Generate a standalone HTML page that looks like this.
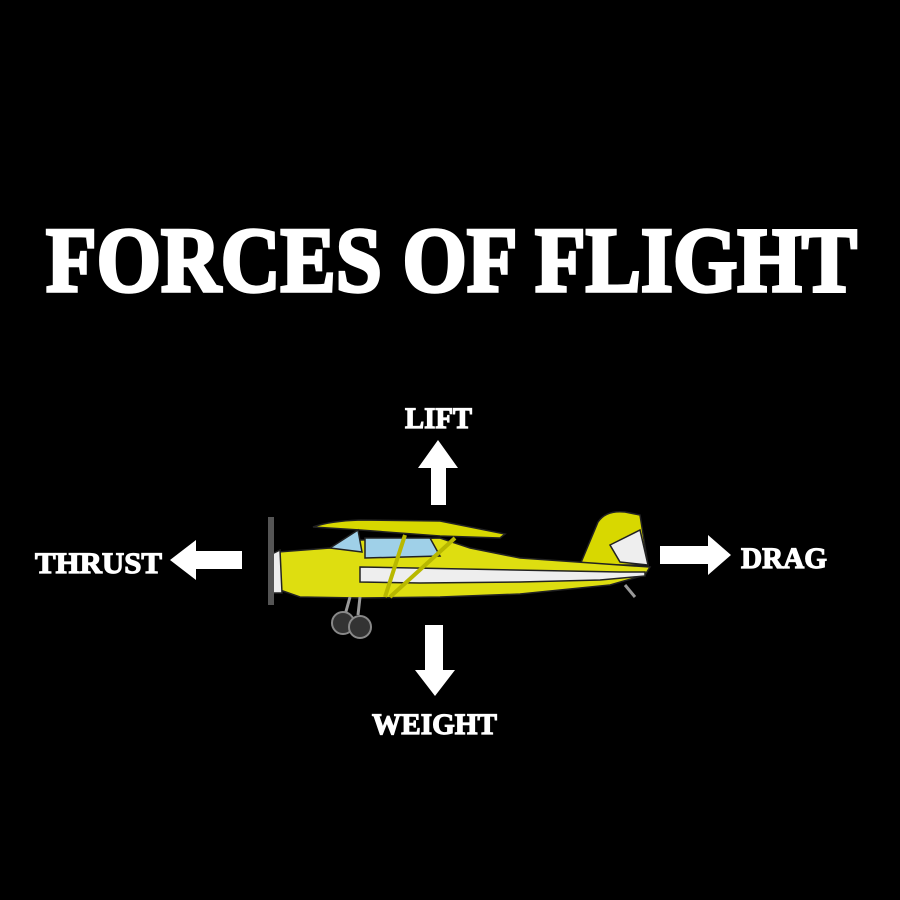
<!DOCTYPE html>
<html><head><style>html,body{margin:0;padding:0;background:#000;}svg{display:block}</style></head>
<body>
<svg width="900" height="900" viewBox="0 0 900 900" xmlns="http://www.w3.org/2000/svg">
<rect width="900" height="900" fill="#000"/>
<g font-family="Liberation Serif, serif" font-weight="bold" fill="#fff" stroke="#fff">
<text x="46" y="291" font-size="92" stroke-width="3.5" textLength="811" lengthAdjust="spacingAndGlyphs">FORCES OF FLIGHT</text>
<g stroke-width="1.2">
<text x="405" y="428" font-size="30" textLength="67" lengthAdjust="spacingAndGlyphs">LIFT</text>
<text x="35" y="573" font-size="30" textLength="127" lengthAdjust="spacingAndGlyphs">THRUST</text>
<text x="741" y="568" font-size="30" textLength="86" lengthAdjust="spacingAndGlyphs">DRAG</text>
<text x="372" y="734" font-size="30" textLength="125" lengthAdjust="spacingAndGlyphs">WEIGHT</text>
</g>
</g>
<g fill="#fff">
<polygon points="431,505 446,505 446,468 458,468 438,440 418,468 431,468"/>
<polygon points="242,551 242,569 196,569 196,580 170,560 196,540 196,551"/>
<polygon points="660,546 660,564 708,564 708,575 731,555 708,535 708,546"/>
<polygon points="425,625 443,625 443,670 455,670 435,696 415,670 425,670"/>
</g>
<!-- airplane -->
<g stroke="#222" stroke-width="1.5">
<path d="M580,565 L598,522 Q606,510 625,512 L640,515 L648,565 Z" fill="#d8d800"/>
<path d="M610,545 L640,530 L648,565 L620,562 Z" fill="#eee"/>
<path d="M313,527 Q330,521 360,520 L440,521 L505,534 L500,538 L440,536 L360,530 Z" fill="#d8d800"/>
<path d="M278,552 L330,548 L360,540 L440,538 L470,548 L520,558 L620,565 L650,567 L645,575 L610,585 L520,594 L440,597 L360,598 L300,597 L280,590 Z" fill="#dede10"/>
<path d="M360,567 L620,572 L645,572 L645,576 L600,580 L520,582 L420,583 L360,582 Z" fill="#eeeeee"/>
<path d="M330,548 L358,530 L362,552 Z" fill="#9fd0e8"/>
<path d="M365,538 L430,538 L440,556 L365,558 Z" fill="#9fd0e8"/>
<path d="M270,555 L280,550 L282,593 L272,593 Z" fill="#eee"/>
</g>
<rect x="268" y="517" width="6" height="88" fill="#555"/>
<g stroke="#999" stroke-width="3"><line x1="350" y1="597" x2="345" y2="615"/><line x1="360" y1="597" x2="358" y2="615"/><line x1="625" y1="585" x2="635" y2="597"/></g>
<circle cx="343" cy="623" r="11" fill="#333" stroke="#888" stroke-width="2"/>
<circle cx="360" cy="627" r="11" fill="#333" stroke="#888" stroke-width="2"/>
<g stroke="#b8b800" stroke-width="4"><line x1="385" y1="597" x2="405" y2="535"/><line x1="390" y1="597" x2="455" y2="538"/></g>
</svg>
</body></html>
